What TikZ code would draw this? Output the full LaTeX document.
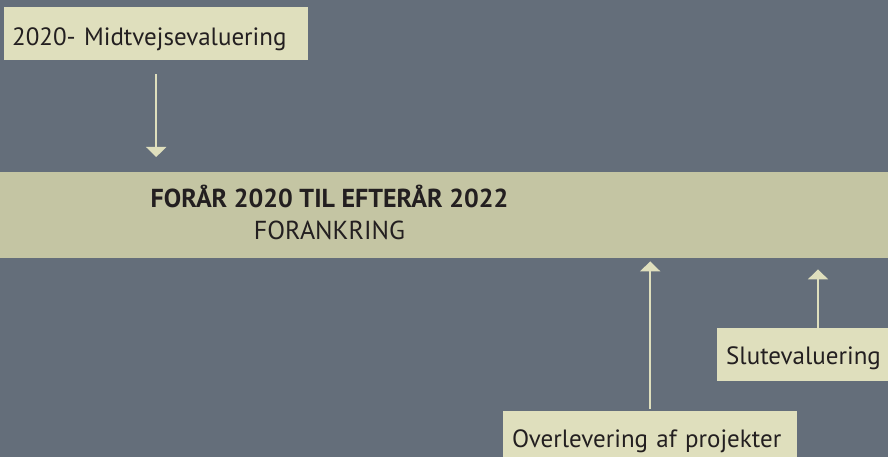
\documentclass[tikz,border=0pt]{standalone}
\usepackage{fontspec}
\setmainfont{PT Sans}
\usetikzlibrary{arrows.meta,positioning}
\definecolor{baggrund}{HTML}{646E7A}
\definecolor{baand}{HTML}{C4C5A3}
\definecolor{boks}{HTML}{DFDFBD}
\definecolor{tekst}{HTML}{231F20}
\begin{document}
\begin{tikzpicture}[x=1pt,y=1pt,
    boksstil/.style={fill=boks, text=tekst, anchor=north west, inner xsep=8pt, inner ysep=0pt, align=left, font=\fontsize{25}{30}\selectfont},
    pil/.style={draw=boks, line width=2pt, -{Triangle[width=20pt,length=10pt]}}]
    % Baggrund
    \fill[baggrund] (0,0) rectangle (888,457);
    \useasboundingbox (0,0) rectangle (888,457);

    % Baand med perioden
    \node[fill=baand, minimum width=888pt, minimum height=86pt, inner sep=0pt, anchor=north west] (baand) at (0,285) {};
    \node[text=tekst, anchor=base, font=\fontsize{26}{30}\selectfont\bfseries] (periode) at (329.5,249) {FORÅR 2020 TIL EFTERÅR 2022};
    \node[text=tekst, anchor=base, font=\fontsize{26}{30}\selectfont] (fase) at (329.5,217) {FORANKRING};

    % Bokse
    \node[boksstil, text width=288pt, text height=38pt, text depth=15pt] (midt) at (4,450) {2020- Midtvejsevaluering};
    \node[boksstil, text width=153pt, text height=36pt, text depth=17pt, inner xsep=9pt] (slut) at (717,129) {Slutevaluering};
    \node[boksstil, text width=276pt, text height=36pt, text depth=10pt, inner xsep=9pt] (over) at (503,46) {Overlevering af projekter};

    % Pile
    \draw[pil, shorten <=14pt, shorten >=15pt] (midt.south) -- (midt.south |- baand.north);
    \draw[pil, shorten <=2pt, shorten >=3pt] (over.north) -- (over.north |- baand.south);
    \coordinate (slutpil) at ([xshift=101pt]slut.north west);
    \draw[pil, shorten >=11pt] (slutpil) -- (slutpil |- baand.south);
\end{tikzpicture}
\end{document}
